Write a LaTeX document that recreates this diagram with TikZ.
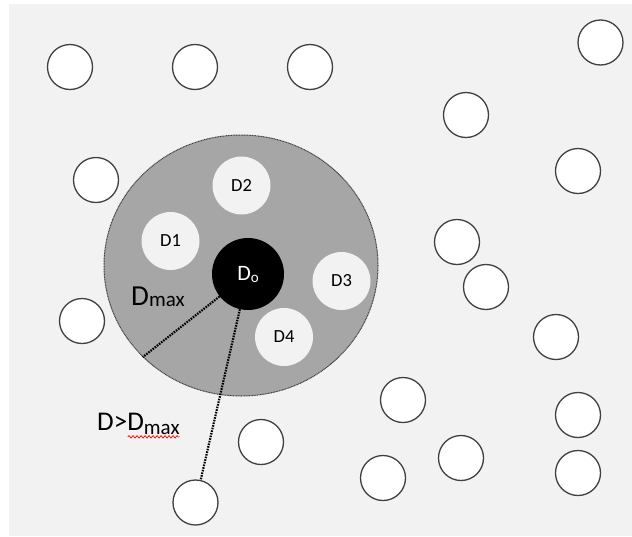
\documentclass[tikz,border=0pt]{standalone}
\usepackage{fontspec}
\setmainfont{Carlito}
\usetikzlibrary{shapes.geometric,decorations.pathmorphing}

\definecolor{paper}{HTML}{F2F2F2}
\definecolor{zonegray}{HTML}{A6A6A6}
\definecolor{ringgray}{HTML}{404040}

\tikzset{
  peer/.style={circle, draw=ringgray, line width=1.3pt, fill=white,
    minimum size=45pt, inner sep=0pt},
  neighbour/.style={circle, fill=paper, minimum size=58pt, inner sep=0pt,
    font=\fontsize{18.5}{18.5}\selectfont},
  origin/.style={circle, fill=black, minimum size=72pt, inner sep=0pt,
    text=white},
  zone/.style={ellipse, draw=ringgray, fill=zonegray, line width=1pt,
    dash pattern=on 1pt off 0.6pt, minimum width=274pt, minimum height=261pt,
    inner sep=0pt},
  reach/.style={black, line width=2.2pt, dash pattern=on 1.6pt off 1.1pt},
  spell/.style={red, line width=0.7pt, decorate,
    decoration={snake, amplitude=1.2pt, segment length=4pt}}
}

\begin{document}
\begin{tikzpicture}[x=1pt, y=-1pt]
  \useasboundingbox (0,0) rectangle (632,536);
  \fill[paper] (9,4) rectangle (632,536);

  % neighbourhood of radius Dmax around the origin node
  \node[zone] (zone) at (241,265.5) {};

  % nodes inside the neighbourhood
  \node[neighbour] (d1) at (170.5,241) {D1};
  \node[neighbour] (d2) at (241.5,185.5) {D2};
  \node[neighbour] (d3) at (341.5,281) {D3};
  \node[neighbour] (d4) at (284,337) {D4};
  \node[origin] (d0) at (248,274)
    {\fontsize{22}{22}\selectfont D\raisebox{-2pt}{\fontsize{15}{15}\selectfont o}};

  % nodes outside the neighbourhood
  \node[peer] (p1) at (70,67) {};
  \node[peer] (p2) at (195,67) {};
  \node[peer] (p3) at (310,67) {};
  \node[peer] (p4) at (600.5,42.5) {};
  \node[peer] (p5) at (466,115) {};
  \node[peer] (p6) at (578,171) {};
  \node[peer] (p7) at (96,180) {};
  \node[peer] (p8) at (457,242) {};
  \node[peer] (p9) at (486,287) {};
  \node[peer] (p10) at (82,321) {};
  \node[peer] (p11) at (556,337) {};
  \node[peer] (p12) at (403,400) {};
  \node[peer] (p13) at (578,415) {};
  \node[peer] (p14) at (261,442) {};
  \node[peer] (p15) at (461,458) {};
  \node[peer] (p16) at (383,478) {};
  \node[peer] (p17) at (578,473) {};
  \node[peer] (far) at (195.5,502.5) {};

  % distances from the origin node
  \coordinate (rim) at (zone.223);
  \draw[reach] (d0) -- (rim);
  \draw[reach] (d0) -- (far);

  \node[anchor=base west, inner sep=0pt] (dmax) at (131,305)
    {\fontsize{29}{29}\selectfont D\raisebox{-1pt}{\fontsize{21}{21}\selectfont max}};
  \node[anchor=base west, inner sep=0pt] (dfar) at (97,430.5)
    {\fontsize{27}{27}\selectfont D>D\raisebox{-4pt}{\fontsize{21}{21}\selectfont max}};
  \draw[spell] (dfar.south east) ++(-52,2) -- ++(52,0);
\end{tikzpicture}
\end{document}
